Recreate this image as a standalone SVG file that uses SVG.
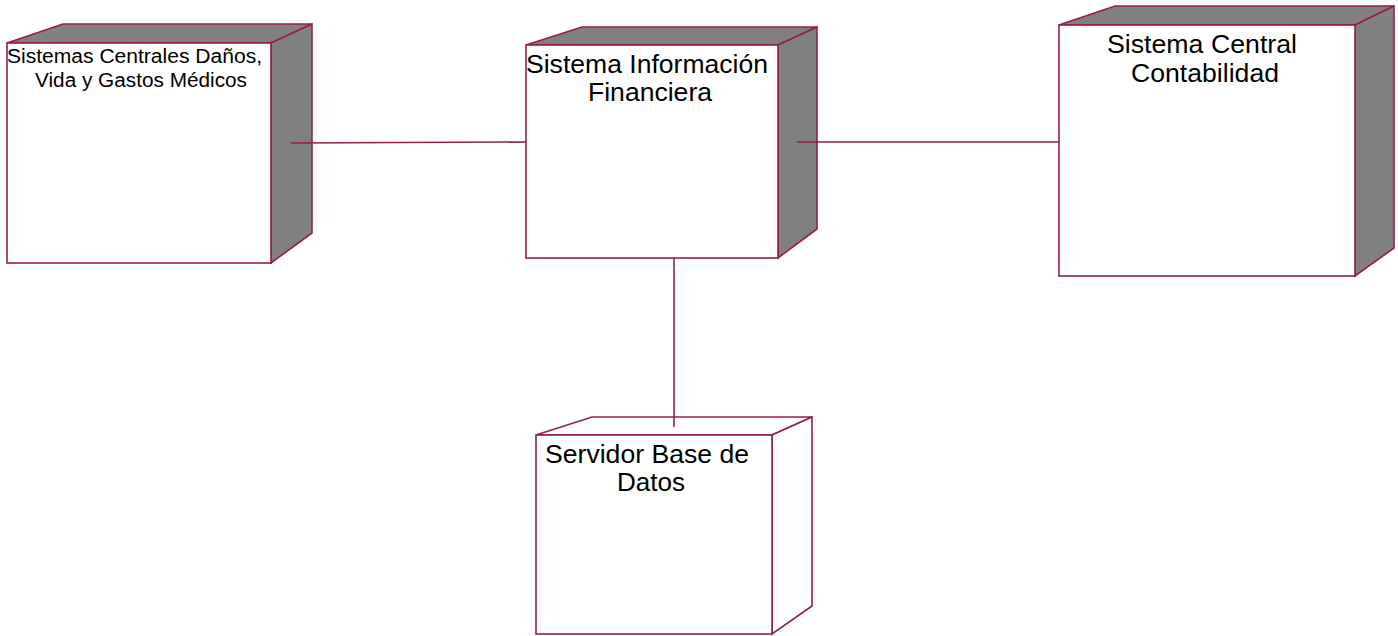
<svg xmlns="http://www.w3.org/2000/svg" width="1398" height="636" viewBox="0 0 1398 636">
  <style>
    .edge { stroke: #961d4c; stroke-width: 1.6; fill: none; }
    .front { fill: #ffffff; stroke: #961d4c; stroke-width: 1.6; }
    .side { fill: #808080; stroke: #961d4c; stroke-width: 1.6; stroke-linejoin: miter; }
    .side-plain { fill: #ffffff; stroke: #961d4c; stroke-width: 1.6; }
    .label { font-family: "Liberation Sans", Arial, sans-serif; fill: #000000; }
  </style>
  <rect width="1398" height="636" fill="#ffffff"/>

  <!-- node: central damage/life/medical systems -->
  <g id="node-sistemas-centrales">
    <polygon class="side" points="7,43 63,24 312,24 271,43"/>
    <polygon class="side" points="271,43 312,24 312,233 271,263"/>
    <rect class="front" x="7" y="43" width="264" height="220"/>
    <text class="label" font-size="20" x="7" y="63" textLength="255" lengthAdjust="spacingAndGlyphs">Sistemas Centrales Daños,</text>
    <text class="label" font-size="20" x="35" y="87" textLength="212" lengthAdjust="spacingAndGlyphs">Vida y Gastos Médicos</text>
  </g>

  <!-- node: financial information system -->
  <g id="node-sistema-informacion">
    <polygon class="side" points="526,45 582,27 817,27 778,45"/>
    <polygon class="side" points="778,45 817,27 817,229 778,258"/>
    <rect class="front" x="526" y="45" width="252" height="213"/>
    <text class="label" font-size="25" x="526" y="73" textLength="242" lengthAdjust="spacingAndGlyphs">Sistema Información</text>
    <text class="label" font-size="25" x="588" y="101" textLength="124" lengthAdjust="spacingAndGlyphs">Financiera</text>
  </g>

  <!-- node: central accounting system -->
  <g id="node-sistema-contabilidad">
    <polygon class="side" points="1059,25 1115,6 1394,6 1355,25"/>
    <polygon class="side" points="1355,25 1394,6 1394,248 1355,276"/>
    <rect class="front" x="1059" y="25" width="296" height="251"/>
    <text class="label" font-size="25" x="1107" y="53" textLength="190" lengthAdjust="spacingAndGlyphs">Sistema Central</text>
    <text class="label" font-size="25" x="1131" y="82" textLength="148" lengthAdjust="spacingAndGlyphs">Contabilidad</text>
  </g>

  <!-- node: database server -->
  <g id="node-servidor-bd">
    <polygon class="side-plain" points="536,435 592,417 812,417 772,435"/>
    <polygon class="side-plain" points="772,435 812,417 812,606 772,634"/>
    <rect class="front" x="536" y="435" width="236" height="199"/>
    <text class="label" font-size="25" x="545" y="463" textLength="204" lengthAdjust="spacingAndGlyphs">Servidor Base de</text>
    <text class="label" font-size="25" x="617" y="491" textLength="68" lengthAdjust="spacingAndGlyphs">Datos</text>
  </g>

  <!-- connectors, drawn over the node sides where they attach -->
  <g id="connectors">
    <line class="edge" x1="291" y1="143" x2="526" y2="142"/>
    <line class="edge" x1="797" y1="142" x2="1059" y2="142"/>
    <line class="edge" x1="674" y1="258" x2="674" y2="427"/>
  </g>
</svg>
